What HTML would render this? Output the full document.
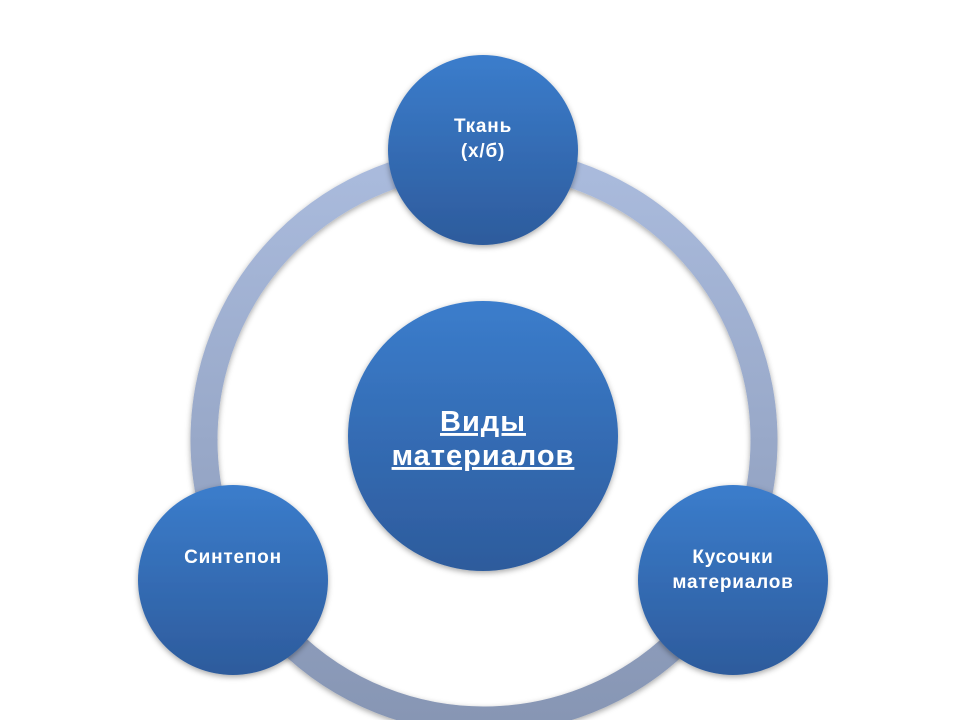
<!DOCTYPE html>
<html><head><meta charset="utf-8"><style>
body{margin:0;width:960px;height:720px;background:#fff;overflow:hidden}
svg{display:block}
text{font-family:"Liberation Sans",sans-serif;font-weight:bold;fill:#fff;text-anchor:middle}
</style></head><body>
<svg width="960" height="720" viewBox="0 0 960 720">
<defs>
<linearGradient id="ring" x1="0" y1="0" x2="0" y2="1">
<stop offset="0" stop-color="#aabbdd"/><stop offset="1" stop-color="#8796b4"/>
</linearGradient>
<linearGradient id="c" x1="0" y1="0" x2="0" y2="1">
<stop offset="0" stop-color="#3b7dcc"/><stop offset="1" stop-color="#2d5b9c"/>
</linearGradient>
<filter id="sh" x="-20%" y="-20%" width="140%" height="140%"><feDropShadow dx="0" dy="2" stdDeviation="3" flood-color="#000" flood-opacity="0.35"/></filter>
</defs>
<circle cx="484" cy="440" r="280" fill="none" stroke="url(#ring)" stroke-width="27" filter="url(#sh)"/>
<circle cx="483" cy="150" r="95" fill="url(#c)" filter="url(#sh)"/>
<circle cx="483" cy="436" r="135" fill="url(#c)" filter="url(#sh)"/>
<circle cx="233" cy="580" r="95" fill="url(#c)" filter="url(#sh)"/>
<circle cx="733" cy="580" r="95" fill="url(#c)" filter="url(#sh)"/>
<g font-size="19" letter-spacing="0.8">
<text x="483" y="132">Ткань</text>
<text x="483" y="157">(х/б)</text>
<text x="233" y="563">Синтепон</text>
<text x="733" y="563">Кусочки</text>
<text x="733" y="588">материалов</text>
</g>
<g font-size="29" letter-spacing="1">
<text x="483" y="431" text-decoration="underline">Виды</text>
<text x="483" y="465" text-decoration="underline">материалов</text>
</g>
</svg>
</body></html>
